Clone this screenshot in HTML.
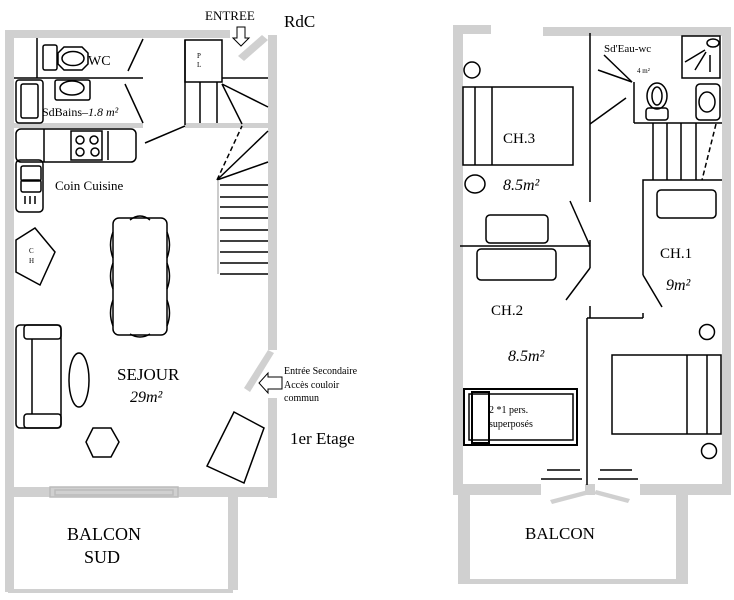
<!DOCTYPE html>
<html><head><style>body{margin:0;background:#fff}svg{display:block}text{font-family:"Liberation Serif",serif;fill:#000}</style></head><body>
<svg width="734" height="600" viewBox="0 0 734 600" xmlns="http://www.w3.org/2000/svg">
<g fill="#d0d0d0" stroke="none">
<rect x="5" y="30" width="225" height="8"/>
<polygon points="238,56 262,35 268,40 244,61"/>
<rect x="268" y="35" width="9" height="315"/>
<rect x="268" y="398" width="9" height="100"/>
<polygon points="244,388 268,350 274,353 250,392"/>
<rect x="5" y="30" width="9" height="562"/>
<rect x="5" y="487" width="272" height="10"/>
<rect x="228" y="497" width="10" height="93"/>
<rect x="8" y="589" width="225" height="4"/>
<rect x="14" y="123" width="129" height="5"/>
<rect x="185" y="123" width="83" height="5"/>
<rect x="453" y="25" width="38" height="9"/>
<rect x="543" y="27" width="188" height="9"/>
<rect x="453" y="25" width="10" height="460"/>
<rect x="722" y="30" width="9" height="465"/>
<rect x="453" y="484" width="88" height="11"/>
<rect x="640" y="484" width="91" height="11"/>
<rect x="585" y="484" width="10" height="11"/>
<rect x="458" y="495" width="12" height="85"/>
<rect x="676" y="495" width="12" height="85"/>
<rect x="458" y="579" width="230" height="5"/>
<polygon points="550,500 588,490 590,494 552,504"/>
<polygon points="596,490 630,499 628,503 594,494"/>
</g>
<g fill="none" stroke="#000" stroke-width="1.5">
<rect x="50" y="487" width="128" height="10" stroke="#bbb"/>
<rect x="55" y="490" width="118" height="5" stroke="#bbb"/>
<line x1="14" y1="78" x2="143" y2="78"/>
<line x1="37" y1="38" x2="37" y2="78"/>
<rect x="43" y="45" width="14" height="25" rx="2"/>
<polygon points="64,47 82,47 88,53 88,64 82,70 64,70 58,64 58,53"/>
<ellipse cx="73" cy="58.5" rx="11" ry="7"/>
<line x1="143" y1="39" x2="128" y2="71"/>
<line x1="125" y1="84" x2="143" y2="123"/>
<rect x="16" y="80" width="27" height="43" rx="3"/>
<rect x="21" y="84" width="17" height="34" rx="2"/>
<rect x="55" y="80" width="35" height="20" rx="2"/>
<ellipse cx="72" cy="88" rx="12" ry="7"/>
<line x1="185" y1="40" x2="185" y2="125"/>
<rect x="185" y="40" width="37" height="42"/>
<line x1="200" y1="82" x2="200" y2="123"/>
<line x1="217" y1="82" x2="217" y2="123"/>
<line x1="222" y1="78" x2="268" y2="78"/>
<line x1="222" y1="84" x2="268" y2="107"/>
<line x1="222" y1="84" x2="242" y2="124"/>
<line x1="145" y1="143" x2="185" y2="126"/>
<line x1="217" y1="180" x2="242" y2="126" stroke-dasharray="5,3"/>
<line x1="217" y1="180" x2="268" y2="131"/>
<line x1="217" y1="180" x2="268" y2="162"/>
<line x1="218" y1="180" x2="218" y2="274" stroke="#bbb"/>
<path d="M220 185H268M220 197H268M220 207H268M220 218H268M220 230H268M220 241H268M220 252H268M220 263H268M220 274H268"/>
<rect x="16" y="129" width="120" height="33" rx="5"/>
<line x1="44" y1="129" x2="44" y2="162"/>
<line x1="108" y1="131" x2="108" y2="160"/>
<rect x="71" y="131" width="31" height="29"/>
<circle cx="80" cy="140" r="4"/><circle cx="94" cy="140" r="4"/><circle cx="80" cy="152" r="4"/><circle cx="95" cy="152" r="4"/>
<rect x="16" y="160" width="27" height="52" rx="4"/>
<rect x="21" y="166" width="20" height="15" rx="2"/>
<rect x="21" y="180" width="20" height="12" rx="2"/>
<path d="M25 196V204M30 196V204M35 196V204"/>
<polygon points="16,240 35,228 55,252 40,285 16,272"/>
<rect x="113" y="218" width="54" height="117" rx="6"/>
<path d="M130 220 Q140 212 150 220M130 334 Q140 340 150 334"/>
<path d="M113 232 Q108 245 113 258M113 263 Q108 276 113 289M113 300 Q108 313 113 326M167 232 Q172 245 167 258M167 263 Q172 276 167 289M167 300 Q172 313 167 326"/>
<rect x="16" y="325" width="45" height="103" rx="4"/>
<rect x="24" y="325" width="37" height="14" rx="3"/>
<rect x="24" y="414" width="37" height="14" rx="3"/>
<line x1="32" y1="339" x2="32" y2="414"/>
<ellipse cx="79" cy="380" rx="10" ry="27"/>
<polygon points="93,428 111,428 119,442 111,457 93,457 86,442"/>
<polygon points="234,412 264,428 244,483 207,466"/>
<polygon points="237,27 245,27 245,38 249,38 241,46 233,38 237,38" stroke-width="1"/>
<polygon points="282,377 268,377 268,373 259,383 268,393 268,389 282,389" stroke-width="1"/>
<line x1="590" y1="33" x2="590" y2="202"/>
<line x1="590" y1="240" x2="590" y2="268"/>
<line x1="590" y1="124" x2="626" y2="98"/>
<line x1="604" y1="55" x2="632" y2="82"/>
<line x1="598" y1="70" x2="632" y2="82"/>
<line x1="634" y1="82" x2="634" y2="123"/>
<line x1="634" y1="123" x2="722" y2="123"/>
<rect x="682" y="36" width="38" height="42"/>
<ellipse cx="713" cy="43" rx="6" ry="4"/>
<path d="M685 62 L705 50M695 70 L706 52M710 55V72"/>
<rect x="646" y="108" width="22" height="12" rx="3"/>
<ellipse cx="657" cy="96" rx="10" ry="13"/>
<ellipse cx="657" cy="96" rx="5" ry="9"/>
<rect x="696" y="84" width="24" height="36" rx="4"/>
<ellipse cx="707" cy="102" rx="8" ry="10"/>
<path d="M653 123V180M667 123V180M681 123V180M696 123V180"/>
<line x1="716" y1="124" x2="702" y2="180" stroke-dasharray="5,3"/>
<rect x="463" y="87" width="110" height="78"/>
<line x1="475" y1="87" x2="475" y2="165"/>
<line x1="492" y1="87" x2="492" y2="165"/>
<circle cx="472" cy="70" r="8"/>
<ellipse cx="475" cy="184" rx="10" ry="9"/>
<line x1="460" y1="246" x2="590" y2="246"/>
<line x1="570" y1="201" x2="590" y2="246"/>
<line x1="590" y1="268" x2="566" y2="300"/>
<rect x="486" y="215" width="62" height="28" rx="4"/>
<rect x="477" y="249" width="79" height="31" rx="4"/>
<path d="M643 275V180H722"/>
<line x1="643" y1="275" x2="662" y2="307"/>
<rect x="657" y="190" width="59" height="28" rx="4"/>
<path d="M590 306V318M587 318H643M643 313V318"/>
<line x1="587" y1="318" x2="587" y2="485"/>
<rect x="612" y="355" width="109" height="79"/>
<line x1="687" y1="355" x2="687" y2="434"/>
<line x1="707" y1="355" x2="707" y2="434"/>
<circle cx="707" cy="332" r="7.5"/>
<circle cx="709" cy="451" r="7.5"/>
<rect x="464" y="389" width="113" height="56" stroke-width="2"/>
<rect x="469" y="394" width="104" height="46"/>
<rect x="472" y="392" width="17" height="51" stroke-width="2"/>
<path d="M547 470H580M541 479H582M600 470H632M598 479H638"/>
</g>
<g font-size="13">
<text x="205" y="20">ENTREE</text>
<text x="284" y="27" font-size="17">RdC</text>
<text x="88" y="65" font-size="14">WC</text>
<text x="42" y="116" font-size="12">SdBains–<tspan font-style="italic">1.8 m²</tspan></text>
<text x="55" y="190" font-size="13">Coin Cuisine</text>
<text x="197" y="58" font-size="7">P</text><text x="197" y="67" font-size="7">L</text>
<text x="29" y="253" font-size="7">C</text><text x="29" y="263" font-size="7">H</text>
<text x="117" y="380" font-size="17">SEJOUR</text>
<text x="130" y="402" font-size="16" font-style="italic">29m²</text>
<text x="284" y="374" font-size="10">Entrée Secondaire</text>
<text x="284" y="388" font-size="10">Accès couloir</text>
<text x="284" y="401" font-size="10">commun</text>
<text x="290" y="444" font-size="17">1er Etage</text>
<text x="67" y="540" font-size="18">BALCON</text>
<text x="84" y="563" font-size="18">SUD</text>
<text x="604" y="52" font-size="11">Sd'Eau-wc</text>
<text x="637" y="73" font-size="7">4 m²</text>
<text x="503" y="143" font-size="15">CH.3</text>
<text x="503" y="190" font-size="16" font-style="italic">8.5m²</text>
<text x="660" y="258" font-size="15">CH.1</text>
<text x="666" y="290" font-size="16" font-style="italic">9m²</text>
<text x="491" y="315" font-size="15">CH.2</text>
<text x="508" y="361" font-size="16" font-style="italic">8.5m²</text>
<text x="489" y="413" font-size="10">2 *1 pers.</text>
<text x="489" y="427" font-size="10">superposés</text>
<text x="525" y="539" font-size="17">BALCON</text>
</g>
</svg>
</body></html>
